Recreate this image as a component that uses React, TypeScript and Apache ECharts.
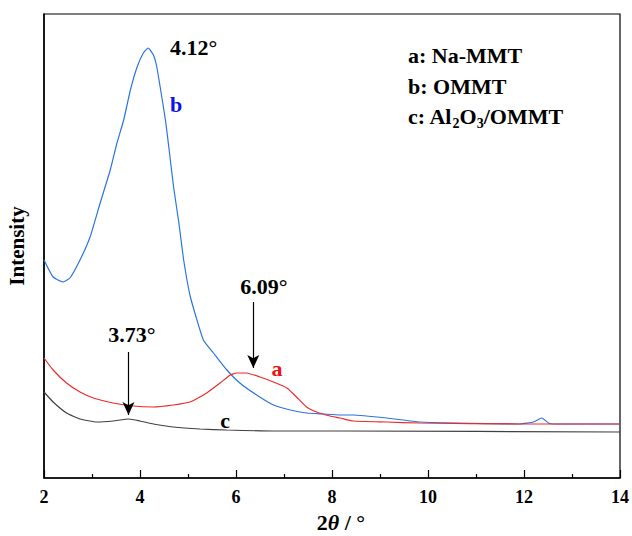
import React, { useEffect, useRef } from "react";
import * as echarts from "echarts";

// 2θ (degrees) and relative intensity (arbitrary units)
const xA = [2.0, 2.19, 2.47, 2.75, 3.03, 3.44, 3.86, 4.28, 4.69, 5.04, 5.39, 5.67, 5.88, 6.01, 6.22, 6.5, 6.78, 7.06, 7.26, 7.47, 7.68, 7.96, 8.17, 8.44, 9.14, 9.83, 11.92, 14.0];
const yA = [120, 108, 95, 86, 80, 75, 72, 71, 73, 76, 85, 95, 103, 105, 105, 101, 96, 90, 81, 71, 66, 62, 60, 57, 56, 55, 54, 54];

const xB = [2.0, 2.19, 2.4, 2.54, 2.75, 2.96, 3.17, 3.38, 3.52, 3.66, 3.8, 3.94, 4.07, 4.17, 4.28, 4.35, 4.42, 4.53, 4.6, 4.7, 4.81, 4.91, 5.05, 5.32, 5.53, 5.81, 6.08, 6.43, 6.78, 7.13, 7.47, 7.82, 8.17, 8.44, 9.14, 9.83, 10.53, 11.92, 12.2, 12.37, 12.51, 12.61, 14.0];
const yB = [218, 201, 196, 200, 218, 241, 275, 308, 335, 358, 388, 411, 425, 430, 423, 411, 391, 358, 331, 291, 255, 218, 181, 138, 125, 108, 95, 83, 73, 68, 65, 64, 63, 63, 60, 56, 55, 54, 56, 60, 55, 54, 54];

const xC = [2.0, 2.19, 2.47, 2.75, 3.1, 3.44, 3.76, 4.0, 4.28, 4.69, 5.25, 5.81, 6.78, 8.17, 14.0];
const yC = [86, 76, 65, 59, 56, 57, 59, 57, 54, 51, 49, 48, 47, 47, 46];

const xTicks = { min: 2, max: 14, interval: 2 };
const yRange = { min: 0, max: 464 };

// arrows: [x, yStart, yEnd]
const arrows = [
  [6.36, 176, 110],
  [3.76, 126, 63],
];

const FONT = "'Liberation Serif', 'Times New Roman', serif";

function pairs(xs: number[], ys: number[]) {
  return xs.map((x, i) => [x, ys[i]]);
}

function measure(text: string, font: string) {
  const c = document.createElement("canvas").getContext("2d");
  if (!c) return text.length * 10;
  c.font = font;
  return c.measureText(text).width;
}

export default function App() {
  const ref = useRef<HTMLDivElement>(null);
  useEffect(() => {
    if (!ref.current) return;
    const chart = echarts.init(ref.current, undefined, { renderer: "svg" });
    const txt = (x: number, y: number, text: string, color = "#000", align = "center", size = 22) => ({
      type: "text",
      x,
      y,
      style: {
        text,
        fill: color,
        font: `bold ${size}px ${FONT}`,
        align,
        verticalAlign: "middle",
      },
    });
    // legend line c with subscripts, built from pieces
    const big = `bold 22px ${FONT}`;
    const small = `bold 14px ${FONT}`;
    const parts: [string, boolean][] = [
      ["c: Al", false],
      ["2", true],
      ["O", false],
      ["3", true],
      ["/OMMT", false],
    ];
    let cx = 408;
    const cy = 116;
    const cParts = parts.map(([t, sub]) => {
      const el = {
        type: "text",
        x: cx,
        y: sub ? cy + 7 : cy,
        style: { text: t, fill: "#000", font: sub ? small : big, align: "left", verticalAlign: "middle" },
      };
      cx += measure(t, sub ? small : big);
      return el;
    });
    chart.setOption({
      animation: false,
      backgroundColor: "#fff",
      grid: {
        left: 44,
        right: 12,
        top: 14,
        bottom: 58,
        show: true,
        borderColor: "#000",
        borderWidth: 1.2,
        containLabel: false,
        outerBoundsMode: "none",
      },
      xAxis: {
        type: "value",
        min: xTicks.min,
        max: xTicks.max,
        interval: xTicks.interval,
        axisLine: { lineStyle: { color: "#000", width: 1.5 } },
        axisTick: { inside: true, length: 8, lineStyle: { color: "#000", width: 1.2 } },
        minorTick: { show: true, splitNumber: 2, length: 4, lineStyle: { color: "#000", width: 1.2 } },
        axisLabel: { color: "#000", fontFamily: FONT, fontWeight: "bold", fontSize: 18, margin: 10 },
        splitLine: { show: false },
        name: "{n|2}{i|θ}{n| / °}",
        nameLocation: "middle",
        nameGap: 33,
        nameTextStyle: {
          padding: [0, 0, 0, 18],
          rich: {
            n: { fontFamily: FONT, fontWeight: "bold", fontSize: 22, color: "#000" },
            i: { fontFamily: FONT, fontWeight: "bold", fontStyle: "italic", fontSize: 22, color: "#000" },
          },
        },
      },
      yAxis: {
        type: "value",
        min: yRange.min,
        max: yRange.max,
        axisLine: { show: true, lineStyle: { color: "#000", width: 1.5 } },
        axisTick: { show: false },
        axisLabel: { show: false },
        splitLine: { show: false },
        name: "Intensity",
        nameLocation: "middle",
        nameGap: 17,
        nameRotate: 90,
        nameTextStyle: { fontFamily: FONT, fontWeight: "bold", fontSize: 21, color: "#000" },
      },
      series: [
        {
          type: "line",
          name: "b",
          data: pairs(xB, yB),
          showSymbol: false,
          smooth: 0.15,
          lineStyle: { color: "#2b74e0", width: 1.2 },
        },
        {
          type: "line",
          name: "a",
          data: pairs(xA, yA),
          showSymbol: false,
          smooth: 0.15,
          lineStyle: { color: "#ee2a2a", width: 1.2 },
        },
        {
          type: "line",
          name: "c",
          data: pairs(xC, yC),
          showSymbol: false,
          smooth: 0.15,
          lineStyle: { color: "#404040", width: 1.2 },
          markLine: {
            silent: true,
            symbol: ["none", "arrow"],
            symbolSize: [9, 13],
            label: { show: false },
            lineStyle: { color: "#000", width: 1.2, type: "solid" },
            data: arrows.map(([x, y0, y1]) => [{ coord: [x, y0] }, { coord: [x, y1] }]),
          },
        },
      ],
      graphic: [
        txt(170, 47, "4.12°", "#000", "left"),
        txt(176, 104, "b", "#1010e8"),
        txt(277, 368, "a", "#ee1111"),
        txt(225, 420, "c"),
        txt(264, 286, "6.09°"),
        txt(132, 334, "3.73°"),
        txt(408, 55, "a: Na-MMT", "#000", "left"),
        txt(408, 86, "b: OMMT", "#000", "left"),
        ...cParts,
      ],
    });
    return () => chart.dispose();
  }, []);
  return <div ref={ref} style={{ position: "fixed", left: 0, top: 0, width: 632, height: 536 }} />;
}
